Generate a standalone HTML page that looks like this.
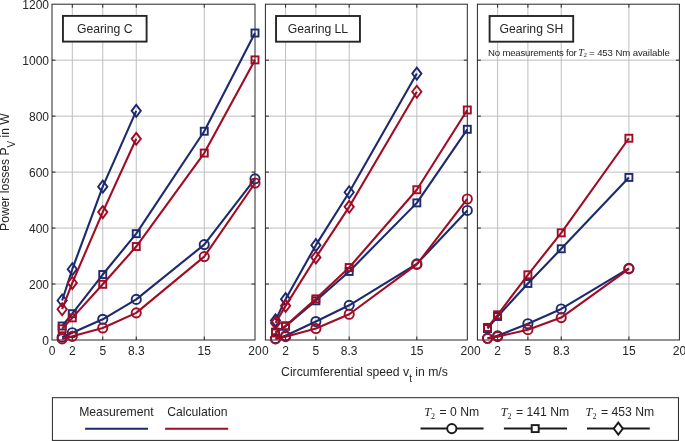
<!DOCTYPE html><html><head><meta charset="utf-8"><style>html,body{margin:0;padding:0;background:#fff;width:685px;height:441px;overflow:hidden}svg{display:block;will-change:transform}text{font-family:"Liberation Sans",sans-serif;fill:#262626}.serif{font-family:"Liberation Serif",serif}</style></head><body>
<svg width="685" height="441" viewBox="0 0 685 441">
<rect width="685" height="441" fill="#fff"/>
<path d="M72.30 4.2V340.0M102.75 4.2V340.0M136.25 4.2V340.0M204.25 4.2V340.0M52.0 284.03H255.0M52.0 228.07H255.0M52.0 172.10H255.0M52.0 116.13H255.0M52.0 60.17H255.0" stroke="#bebebe" stroke-width="1" fill="none"/>
<path d="M72.30 340.0v-3.5M72.30 4.2v3.5M102.75 340.0v-3.5M102.75 4.2v3.5M136.25 340.0v-3.5M136.25 4.2v3.5M204.25 340.0v-3.5M204.25 4.2v3.5M52.0 284.03h3.5M255.0 284.03h-3.5M52.0 228.07h3.5M255.0 228.07h-3.5M52.0 172.10h3.5M255.0 172.10h-3.5M52.0 116.13h3.5M255.0 116.13h-3.5M52.0 60.17h3.5M255.0 60.17h-3.5" stroke="#262626" stroke-width="1" fill="none"/>
<rect x="52.0" y="4.2" width="203.00" height="335.80" fill="none" stroke="#262626" stroke-width="1"/>
<path d="M62.15 337.20L72.30 332.72L102.75 319.29L136.25 299.42L204.25 244.58L255.00 178.82" stroke="#1c2a6e" stroke-width="2.1" fill="none" stroke-linejoin="round"/>
<circle cx="62.15" cy="337.20" r="4.6" fill="none" stroke="#1c2a6e" stroke-width="1.9"/>
<circle cx="72.30" cy="332.72" r="4.6" fill="none" stroke="#1c2a6e" stroke-width="1.9"/>
<circle cx="102.75" cy="319.29" r="4.6" fill="none" stroke="#1c2a6e" stroke-width="1.9"/>
<circle cx="136.25" cy="299.42" r="4.6" fill="none" stroke="#1c2a6e" stroke-width="1.9"/>
<circle cx="204.25" cy="244.58" r="4.6" fill="none" stroke="#1c2a6e" stroke-width="1.9"/>
<circle cx="255.00" cy="178.82" r="4.6" fill="none" stroke="#1c2a6e" stroke-width="1.9"/>
<path d="M62.15 338.88L72.30 336.36L102.75 327.97L136.25 312.86L204.25 256.61L255.00 183.01" stroke="#a00c24" stroke-width="2.1" fill="none" stroke-linejoin="round"/>
<circle cx="62.15" cy="338.88" r="4.6" fill="none" stroke="#a00c24" stroke-width="1.9"/>
<circle cx="72.30" cy="336.36" r="4.6" fill="none" stroke="#a00c24" stroke-width="1.9"/>
<circle cx="102.75" cy="327.97" r="4.6" fill="none" stroke="#a00c24" stroke-width="1.9"/>
<circle cx="136.25" cy="312.86" r="4.6" fill="none" stroke="#a00c24" stroke-width="1.9"/>
<circle cx="204.25" cy="256.61" r="4.6" fill="none" stroke="#a00c24" stroke-width="1.9"/>
<circle cx="255.00" cy="183.01" r="4.6" fill="none" stroke="#a00c24" stroke-width="1.9"/>
<path d="M62.15 326.01L72.30 313.70L102.75 274.52L136.25 233.66L204.25 131.24L255.00 33.02" stroke="#1c2a6e" stroke-width="2.1" fill="none" stroke-linejoin="round"/>
<rect x="58.65" y="322.51" width="7.0" height="7.0" fill="none" stroke="#1c2a6e" stroke-width="1.9"/>
<rect x="68.80" y="310.20" width="7.0" height="7.0" fill="none" stroke="#1c2a6e" stroke-width="1.9"/>
<rect x="99.25" y="271.02" width="7.0" height="7.0" fill="none" stroke="#1c2a6e" stroke-width="1.9"/>
<rect x="132.75" y="230.16" width="7.0" height="7.0" fill="none" stroke="#1c2a6e" stroke-width="1.9"/>
<rect x="200.75" y="127.74" width="7.0" height="7.0" fill="none" stroke="#1c2a6e" stroke-width="1.9"/>
<rect x="251.50" y="29.52" width="7.0" height="7.0" fill="none" stroke="#1c2a6e" stroke-width="1.9"/>
<path d="M62.15 328.81L72.30 317.89L102.75 284.31L136.25 246.54L204.25 153.07L255.00 59.89" stroke="#a00c24" stroke-width="2.1" fill="none" stroke-linejoin="round"/>
<rect x="58.65" y="325.31" width="7.0" height="7.0" fill="none" stroke="#a00c24" stroke-width="1.9"/>
<rect x="68.80" y="314.39" width="7.0" height="7.0" fill="none" stroke="#a00c24" stroke-width="1.9"/>
<rect x="99.25" y="280.81" width="7.0" height="7.0" fill="none" stroke="#a00c24" stroke-width="1.9"/>
<rect x="132.75" y="243.04" width="7.0" height="7.0" fill="none" stroke="#a00c24" stroke-width="1.9"/>
<rect x="200.75" y="149.57" width="7.0" height="7.0" fill="none" stroke="#a00c24" stroke-width="1.9"/>
<rect x="251.50" y="56.39" width="7.0" height="7.0" fill="none" stroke="#a00c24" stroke-width="1.9"/>
<path d="M62.15 300.54L72.30 269.20L102.75 186.65L136.25 110.82" stroke="#1c2a6e" stroke-width="2.1" fill="none" stroke-linejoin="round"/>
<path d="M62.15 294.54L66.75 300.54L62.15 306.54L57.55 300.54Z" fill="none" stroke="#1c2a6e" stroke-width="1.9" stroke-linejoin="miter"/>
<path d="M72.30 263.20L76.90 269.20L72.30 275.20L67.70 269.20Z" fill="none" stroke="#1c2a6e" stroke-width="1.9" stroke-linejoin="miter"/>
<path d="M102.75 180.65L107.35 186.65L102.75 192.65L98.15 186.65Z" fill="none" stroke="#1c2a6e" stroke-width="1.9" stroke-linejoin="miter"/>
<path d="M136.25 104.82L140.84 110.82L136.25 116.82L131.65 110.82Z" fill="none" stroke="#1c2a6e" stroke-width="1.9" stroke-linejoin="miter"/>
<path d="M62.15 309.22L72.30 282.91L102.75 212.12L136.25 138.80" stroke="#a00c24" stroke-width="2.1" fill="none" stroke-linejoin="round"/>
<path d="M62.15 303.22L66.75 309.22L62.15 315.22L57.55 309.22Z" fill="none" stroke="#a00c24" stroke-width="1.9" stroke-linejoin="miter"/>
<path d="M72.30 276.91L76.90 282.91L72.30 288.91L67.70 282.91Z" fill="none" stroke="#a00c24" stroke-width="1.9" stroke-linejoin="miter"/>
<path d="M102.75 206.12L107.35 212.12L102.75 218.12L98.15 212.12Z" fill="none" stroke="#a00c24" stroke-width="1.9" stroke-linejoin="miter"/>
<path d="M136.25 132.80L140.84 138.80L136.25 144.80L131.65 138.80Z" fill="none" stroke="#a00c24" stroke-width="1.9" stroke-linejoin="miter"/>
<text x="52.00" y="355" font-size="12" text-anchor="middle">0</text>
<text x="72.30" y="355" font-size="12" text-anchor="middle">2</text>
<text x="102.75" y="355" font-size="12" text-anchor="middle">5</text>
<text x="136.25" y="355" font-size="12" text-anchor="middle">8.3</text>
<text x="204.25" y="355" font-size="12" text-anchor="middle">15</text>
<text x="255.00" y="355" font-size="12" text-anchor="middle">20</text>
<rect x="62.95" y="15.9" width="83.65" height="25.70" fill="#fff" stroke="#262626" stroke-width="1.9"/>
<text x="104.78" y="33" font-size="12.2" text-anchor="middle">Gearing C</text>
<path d="M285.59 4.2V340.0M315.88 4.2V340.0M349.19 4.2V340.0M416.83 4.2V340.0M265.4 284.03H467.3M265.4 228.07H467.3M265.4 172.10H467.3M265.4 116.13H467.3M265.4 60.17H467.3" stroke="#bebebe" stroke-width="1" fill="none"/>
<path d="M285.59 340.0v-3.5M285.59 4.2v3.5M315.88 340.0v-3.5M315.88 4.2v3.5M349.19 340.0v-3.5M349.19 4.2v3.5M416.83 340.0v-3.5M416.83 4.2v3.5M265.4 284.03h3.5M467.3 284.03h-3.5M265.4 228.07h3.5M467.3 228.07h-3.5M265.4 172.10h3.5M467.3 172.10h-3.5M265.4 116.13h3.5M467.3 116.13h-3.5M265.4 60.17h3.5M467.3 60.17h-3.5" stroke="#262626" stroke-width="1" fill="none"/>
<rect x="265.4" y="4.2" width="201.90" height="335.80" fill="none" stroke="#262626" stroke-width="1"/>
<path d="M275.50 338.60L285.59 335.80L315.88 321.53L349.19 305.30L416.83 263.89L467.30 210.44" stroke="#1c2a6e" stroke-width="2.1" fill="none" stroke-linejoin="round"/>
<circle cx="275.50" cy="338.60" r="4.6" fill="none" stroke="#1c2a6e" stroke-width="1.9"/>
<circle cx="285.59" cy="335.80" r="4.6" fill="none" stroke="#1c2a6e" stroke-width="1.9"/>
<circle cx="315.88" cy="321.53" r="4.6" fill="none" stroke="#1c2a6e" stroke-width="1.9"/>
<circle cx="349.19" cy="305.30" r="4.6" fill="none" stroke="#1c2a6e" stroke-width="1.9"/>
<circle cx="416.83" cy="263.89" r="4.6" fill="none" stroke="#1c2a6e" stroke-width="1.9"/>
<circle cx="467.30" cy="210.44" r="4.6" fill="none" stroke="#1c2a6e" stroke-width="1.9"/>
<path d="M275.50 338.88L285.59 336.64L315.88 328.53L349.19 314.26L416.83 264.44L467.30 198.96" stroke="#a00c24" stroke-width="2.1" fill="none" stroke-linejoin="round"/>
<circle cx="275.50" cy="338.88" r="4.6" fill="none" stroke="#a00c24" stroke-width="1.9"/>
<circle cx="285.59" cy="336.64" r="4.6" fill="none" stroke="#a00c24" stroke-width="1.9"/>
<circle cx="315.88" cy="328.53" r="4.6" fill="none" stroke="#a00c24" stroke-width="1.9"/>
<circle cx="349.19" cy="314.26" r="4.6" fill="none" stroke="#a00c24" stroke-width="1.9"/>
<circle cx="416.83" cy="264.44" r="4.6" fill="none" stroke="#a00c24" stroke-width="1.9"/>
<circle cx="467.30" cy="198.96" r="4.6" fill="none" stroke="#a00c24" stroke-width="1.9"/>
<path d="M275.50 332.16L285.59 326.29L315.88 300.82L349.19 271.44L416.83 202.88L467.30 129.29" stroke="#1c2a6e" stroke-width="2.1" fill="none" stroke-linejoin="round"/>
<rect x="272.00" y="328.66" width="7.0" height="7.0" fill="none" stroke="#1c2a6e" stroke-width="1.9"/>
<rect x="282.09" y="322.79" width="7.0" height="7.0" fill="none" stroke="#1c2a6e" stroke-width="1.9"/>
<rect x="312.38" y="297.32" width="7.0" height="7.0" fill="none" stroke="#1c2a6e" stroke-width="1.9"/>
<rect x="345.69" y="267.94" width="7.0" height="7.0" fill="none" stroke="#1c2a6e" stroke-width="1.9"/>
<rect x="413.33" y="199.38" width="7.0" height="7.0" fill="none" stroke="#1c2a6e" stroke-width="1.9"/>
<rect x="463.80" y="125.79" width="7.0" height="7.0" fill="none" stroke="#1c2a6e" stroke-width="1.9"/>
<path d="M275.50 333.00L285.59 325.73L315.88 298.86L349.19 267.52L416.83 189.73L467.30 109.98" stroke="#a00c24" stroke-width="2.1" fill="none" stroke-linejoin="round"/>
<rect x="272.00" y="329.50" width="7.0" height="7.0" fill="none" stroke="#a00c24" stroke-width="1.9"/>
<rect x="282.09" y="322.23" width="7.0" height="7.0" fill="none" stroke="#a00c24" stroke-width="1.9"/>
<rect x="312.38" y="295.36" width="7.0" height="7.0" fill="none" stroke="#a00c24" stroke-width="1.9"/>
<rect x="345.69" y="264.02" width="7.0" height="7.0" fill="none" stroke="#a00c24" stroke-width="1.9"/>
<rect x="413.33" y="186.23" width="7.0" height="7.0" fill="none" stroke="#a00c24" stroke-width="1.9"/>
<rect x="463.80" y="106.48" width="7.0" height="7.0" fill="none" stroke="#a00c24" stroke-width="1.9"/>
<path d="M275.50 320.41L285.59 299.14L315.88 245.14L349.19 192.25L416.83 73.60" stroke="#1c2a6e" stroke-width="2.1" fill="none" stroke-linejoin="round"/>
<path d="M275.50 314.41L280.10 320.41L275.50 326.41L270.89 320.41Z" fill="none" stroke="#1c2a6e" stroke-width="1.9" stroke-linejoin="miter"/>
<path d="M285.59 293.14L290.19 299.14L285.59 305.14L280.99 299.14Z" fill="none" stroke="#1c2a6e" stroke-width="1.9" stroke-linejoin="miter"/>
<path d="M315.88 239.14L320.48 245.14L315.88 251.14L311.27 245.14Z" fill="none" stroke="#1c2a6e" stroke-width="1.9" stroke-linejoin="miter"/>
<path d="M349.19 186.25L353.79 192.25L349.19 198.25L344.59 192.25Z" fill="none" stroke="#1c2a6e" stroke-width="1.9" stroke-linejoin="miter"/>
<path d="M416.83 67.60L421.43 73.60L416.83 79.60L412.23 73.60Z" fill="none" stroke="#1c2a6e" stroke-width="1.9" stroke-linejoin="miter"/>
<path d="M275.50 322.93L285.59 305.86L315.88 257.45L349.19 206.80L416.83 91.79" stroke="#a00c24" stroke-width="2.1" fill="none" stroke-linejoin="round"/>
<path d="M275.50 316.93L280.10 322.93L275.50 328.93L270.89 322.93Z" fill="none" stroke="#a00c24" stroke-width="1.9" stroke-linejoin="miter"/>
<path d="M285.59 299.86L290.19 305.86L285.59 311.86L280.99 305.86Z" fill="none" stroke="#a00c24" stroke-width="1.9" stroke-linejoin="miter"/>
<path d="M315.88 251.45L320.48 257.45L315.88 263.45L311.27 257.45Z" fill="none" stroke="#a00c24" stroke-width="1.9" stroke-linejoin="miter"/>
<path d="M349.19 200.80L353.79 206.80L349.19 212.80L344.59 206.80Z" fill="none" stroke="#a00c24" stroke-width="1.9" stroke-linejoin="miter"/>
<path d="M416.83 85.79L421.43 91.79L416.83 97.79L412.23 91.79Z" fill="none" stroke="#a00c24" stroke-width="1.9" stroke-linejoin="miter"/>
<text x="265.40" y="355" font-size="12" text-anchor="middle">0</text>
<text x="285.59" y="355" font-size="12" text-anchor="middle">2</text>
<text x="315.88" y="355" font-size="12" text-anchor="middle">5</text>
<text x="349.19" y="355" font-size="12" text-anchor="middle">8.3</text>
<text x="416.83" y="355" font-size="12" text-anchor="middle">15</text>
<text x="467.30" y="355" font-size="12" text-anchor="middle">20</text>
<rect x="276.05" y="16.0" width="83.90" height="25.70" fill="#fff" stroke="#262626" stroke-width="1.9"/>
<text x="318.00" y="33" font-size="12.2" text-anchor="middle">Gearing LL</text>
<path d="M497.60 4.2V340.0M527.90 4.2V340.0M561.23 4.2V340.0M628.90 4.2V340.0M477.4 284.03H679.4M477.4 228.07H679.4M477.4 172.10H679.4M477.4 116.13H679.4M477.4 60.17H679.4" stroke="#bebebe" stroke-width="1" fill="none"/>
<path d="M497.60 340.0v-3.5M497.60 4.2v3.5M527.90 340.0v-3.5M527.90 4.2v3.5M561.23 340.0v-3.5M561.23 4.2v3.5M628.90 340.0v-3.5M628.90 4.2v3.5M477.4 284.03h3.5M679.4 284.03h-3.5M477.4 228.07h3.5M679.4 228.07h-3.5M477.4 172.10h3.5M679.4 172.10h-3.5M477.4 116.13h3.5M679.4 116.13h-3.5M477.4 60.17h3.5M679.4 60.17h-3.5" stroke="#262626" stroke-width="1" fill="none"/>
<rect x="477.4" y="4.2" width="202.00" height="335.80" fill="none" stroke="#262626" stroke-width="1"/>
<path d="M487.50 338.32L497.60 335.80L527.90 323.77L561.23 308.94L628.90 268.36" stroke="#1c2a6e" stroke-width="2.1" fill="none" stroke-linejoin="round"/>
<circle cx="487.50" cy="338.32" r="4.6" fill="none" stroke="#1c2a6e" stroke-width="1.9"/>
<circle cx="497.60" cy="335.80" r="4.6" fill="none" stroke="#1c2a6e" stroke-width="1.9"/>
<circle cx="527.90" cy="323.77" r="4.6" fill="none" stroke="#1c2a6e" stroke-width="1.9"/>
<circle cx="561.23" cy="308.94" r="4.6" fill="none" stroke="#1c2a6e" stroke-width="1.9"/>
<circle cx="628.90" cy="268.36" r="4.6" fill="none" stroke="#1c2a6e" stroke-width="1.9"/>
<path d="M487.50 338.32L497.60 336.64L527.90 329.65L561.23 317.61L628.90 268.92" stroke="#a00c24" stroke-width="2.1" fill="none" stroke-linejoin="round"/>
<circle cx="487.50" cy="338.32" r="4.6" fill="none" stroke="#a00c24" stroke-width="1.9"/>
<circle cx="497.60" cy="336.64" r="4.6" fill="none" stroke="#a00c24" stroke-width="1.9"/>
<circle cx="527.90" cy="329.65" r="4.6" fill="none" stroke="#a00c24" stroke-width="1.9"/>
<circle cx="561.23" cy="317.61" r="4.6" fill="none" stroke="#a00c24" stroke-width="1.9"/>
<circle cx="628.90" cy="268.92" r="4.6" fill="none" stroke="#a00c24" stroke-width="1.9"/>
<path d="M487.50 328.53L497.60 316.49L527.90 283.47L561.23 248.77L628.90 177.42" stroke="#1c2a6e" stroke-width="2.1" fill="none" stroke-linejoin="round"/>
<rect x="484.00" y="325.03" width="7.0" height="7.0" fill="none" stroke="#1c2a6e" stroke-width="1.9"/>
<rect x="494.10" y="312.99" width="7.0" height="7.0" fill="none" stroke="#1c2a6e" stroke-width="1.9"/>
<rect x="524.40" y="279.97" width="7.0" height="7.0" fill="none" stroke="#1c2a6e" stroke-width="1.9"/>
<rect x="557.73" y="245.27" width="7.0" height="7.0" fill="none" stroke="#1c2a6e" stroke-width="1.9"/>
<rect x="625.40" y="173.92" width="7.0" height="7.0" fill="none" stroke="#1c2a6e" stroke-width="1.9"/>
<path d="M487.50 327.41L497.60 314.81L527.90 274.80L561.23 232.82L628.90 138.24" stroke="#a00c24" stroke-width="2.1" fill="none" stroke-linejoin="round"/>
<rect x="484.00" y="323.91" width="7.0" height="7.0" fill="none" stroke="#a00c24" stroke-width="1.9"/>
<rect x="494.10" y="311.31" width="7.0" height="7.0" fill="none" stroke="#a00c24" stroke-width="1.9"/>
<rect x="524.40" y="271.30" width="7.0" height="7.0" fill="none" stroke="#a00c24" stroke-width="1.9"/>
<rect x="557.73" y="229.32" width="7.0" height="7.0" fill="none" stroke="#a00c24" stroke-width="1.9"/>
<rect x="625.40" y="134.74" width="7.0" height="7.0" fill="none" stroke="#a00c24" stroke-width="1.9"/>
<text x="477.40" y="355" font-size="12" text-anchor="middle">0</text>
<text x="497.60" y="355" font-size="12" text-anchor="middle">2</text>
<text x="527.90" y="355" font-size="12" text-anchor="middle">5</text>
<text x="561.23" y="355" font-size="12" text-anchor="middle">8.3</text>
<text x="628.90" y="355" font-size="12" text-anchor="middle">15</text>
<text x="679.40" y="355" font-size="12" text-anchor="middle">20</text>
<rect x="489.6" y="16.0" width="83.60" height="25.70" fill="#fff" stroke="#262626" stroke-width="1.9"/>
<text x="531.40" y="33" font-size="12.2" text-anchor="middle">Gearing SH</text>
<text x="49.0" y="344.60" font-size="12" text-anchor="end">0</text>
<text x="49.0" y="288.63" font-size="12" text-anchor="end">200</text>
<text x="49.0" y="232.67" font-size="12" text-anchor="end">400</text>
<text x="49.0" y="176.70" font-size="12" text-anchor="end">600</text>
<text x="49.0" y="120.73" font-size="12" text-anchor="end">800</text>
<text x="49.0" y="64.77" font-size="12" text-anchor="end">1000</text>
<text x="49.0" y="8.80" font-size="12" text-anchor="end">1200</text>
<text x="488.1" y="55.8" font-size="9.6" letter-spacing="-0.2">No measurements for <tspan class="serif" font-style="italic" font-size="10" dx="-0.8">T</tspan><tspan class="serif" font-size="7" dy="1.6">2</tspan><tspan dy="-1.6" dx="-0.4" letter-spacing="-0.1"> = 453 Nm available</tspan></text>
<text transform="translate(8.6 230.9) rotate(-90)" font-size="12.1">Power losses P<tspan font-size="10" dy="6">V</tspan><tspan dy="-6"> in W</tspan></text>
<text x="281.1" y="376" font-size="12.2">Circumferential speed v<tspan font-size="10" dy="5.6">t</tspan><tspan dy="-5.6"> in m/s</tspan></text>
<rect x="52.4" y="397.7" width="626.05" height="42.7" fill="none" stroke="#262626" stroke-width="1"/>
<text x="79.2" y="416" font-size="12.2">Measurement</text>
<text x="167.2" y="416" font-size="12.2">Calculation</text>
<path d="M85.1 428.8H148" stroke="#1c2a6e" stroke-width="2"/>
<path d="M165.1 428.8H228.2" stroke="#a00c24" stroke-width="2"/>
<text x="424.2" y="415.8" font-size="12.2"><tspan class="serif" font-style="italic">T</tspan><tspan class="serif" font-size="8" dy="3.2">2</tspan><tspan dy="-3.2" dx="1.2"> = 0 Nm</tspan></text>
<path d="M420.5 428.6H483.6" stroke="#1e1a1a" stroke-width="2"/>
<circle cx="451.80" cy="428.60" r="4.6" fill="#fff" stroke="#1e1a1a" stroke-width="1.9"/>
<text x="500.7" y="415.8" font-size="12.2"><tspan class="serif" font-style="italic">T</tspan><tspan class="serif" font-size="8" dy="3.2">2</tspan><tspan dy="-3.2" dx="1.2"> = 141 Nm</tspan></text>
<path d="M503.9 428.6H567.0" stroke="#1e1a1a" stroke-width="2"/>
<rect x="531.70" y="425.10" width="7.0" height="7.0" fill="#fff" stroke="#1e1a1a" stroke-width="1.9"/>
<text x="585.6" y="415.8" font-size="12.2"><tspan class="serif" font-style="italic">T</tspan><tspan class="serif" font-size="8" dy="3.2">2</tspan><tspan dy="-3.2" dx="1.2"> = 453 Nm</tspan></text>
<path d="M587.0 428.6H649.8" stroke="#1e1a1a" stroke-width="2"/>
<path d="M618.30 422.60L622.90 428.60L618.30 434.60L613.70 428.60Z" fill="#fff" stroke="#1e1a1a" stroke-width="1.9" stroke-linejoin="miter"/>
</svg></body></html>
